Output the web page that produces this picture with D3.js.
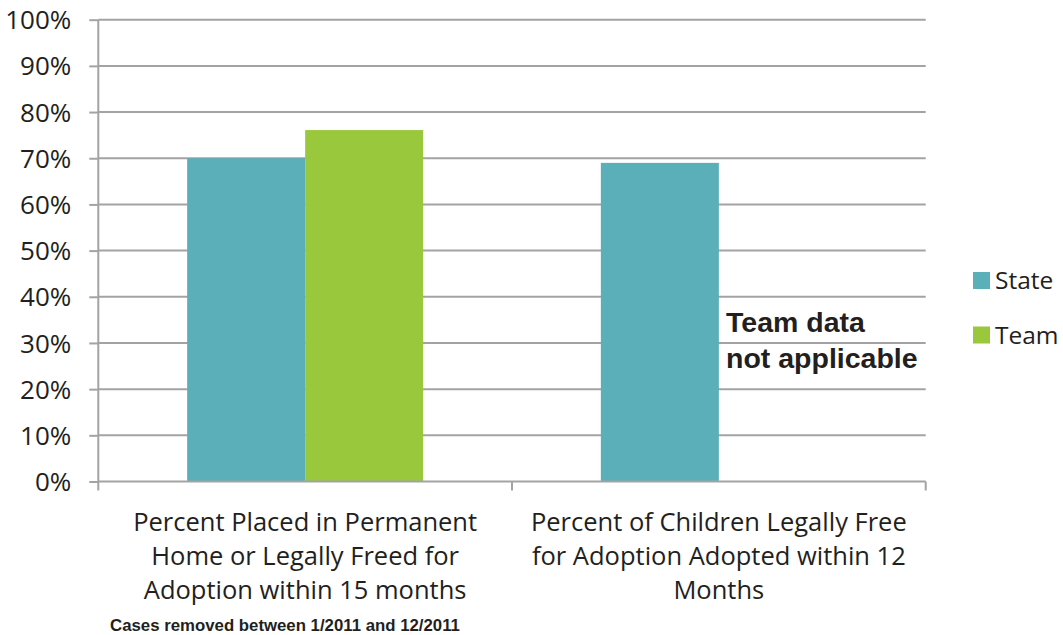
<!DOCTYPE html>
<html><head><meta charset="utf-8">
<script src="https://cdn.jsdelivr.net/npm/d3@7"></script>
<style>body{margin:0;background:#fff}svg{display:block}</style>
</head><body>
<svg id="c" width="1063" height="635"></svg>
<script>
const categories = [
  ["Percent Placed in Permanent","Home or Legally Freed for","Adoption within 15 months"],
  ["Percent of Children Legally Free","for Adoption Adopted within 12","Months"]
];
const seriesNames = ["State","Team"];
const stateValues = [70, 69];
const teamValues = [76.1, null];
const tickValues = [0,10,20,30,40,50,60,70,80,90,100];
const colors = ["#5AAFB8","#99C83D"];
const note = ["Team data","not applicable"];
const footnote = "Cases removed between 1/2011 and 12/2011";

const svg = d3.select("#c");
const L = 98.3, R = 925.7, T = 19.7, B = 481.5;
const font = "'Open Sans', sans-serif";
const txt = "#231F20";
const grid = "#A3A3A6";

const y = d3.scaleLinear().domain([0,100]).range([B,T]);
const x0 = d3.scaleBand().domain(d3.range(categories.length)).range([L,R]).padding(0);
const x1 = d3.scaleBand().domain(seriesNames).range([0,x0.bandwidth()]).paddingInner(0).paddingOuter(0.753);

// gridlines
svg.append("g").selectAll("line").data(tickValues.filter(d=>d>0)).join("line")
  .attr("x1",L).attr("x2",R).attr("y1",d=>y(d)).attr("y2",d=>y(d))
  .attr("stroke",grid).attr("stroke-width",2);

// bars
const series = [stateValues, teamValues];
series.forEach((vals,si)=>{
  svg.append("g").selectAll("rect").data(vals.map((v,i)=>({v,i})).filter(d=>d.v!=null)).join("rect")
    .attr("x",d=>x0(d.i)+x1(seriesNames[si]))
    .attr("width",x1.bandwidth())
    .attr("y",d=>y(d.v)).attr("height",d=>B-y(d.v))
    .attr("fill",colors[si]);
});

// y axis
const ya = d3.axisLeft(y).tickValues(tickValues).tickFormat(d=>d+"%").tickSize(9).tickPadding(18);
const yg = svg.append("g").attr("transform",`translate(${L},0)`).call(ya);
yg.select(".domain").attr("stroke",grid).attr("stroke-width",2).attr("d",`M0,${T}V${B}`);
yg.selectAll(".tick line").attr("stroke",grid).attr("stroke-width",2);
yg.selectAll("text").attr("font-family",font).attr("font-size",26).attr("fill",txt).attr("dy","0.35em");

// x axis
svg.append("line").attr("x1",L).attr("x2",R).attr("y1",B).attr("y2",B).attr("stroke",grid).attr("stroke-width",2);
const xt = [L].concat(d3.range(categories.length).map(i=>x0(i)+x0.bandwidth()));
svg.append("g").selectAll("line").data(xt).join("line")
  .attr("x1",d=>d).attr("x2",d=>d).attr("y1",B).attr("y2",B+9).attr("stroke",grid).attr("stroke-width",2);

// category labels
categories.forEach((lines,i)=>{
  const t = svg.append("text").attr("text-anchor","middle").attr("font-family",font).attr("font-size",25.5).attr("fill",txt);
  lines.forEach((ln,j)=>{
    t.append("tspan").attr("x",x0(i)+x0.bandwidth()/2).attr("y",530.5+j*34).text(ln);
  });
});

// footnote
svg.append("text").attr("x",285).attr("y",630.5).attr("text-anchor","middle")
  .attr("font-family","'Liberation Sans', Arial, sans-serif").attr("font-weight","bold").attr("font-size",16.8).attr("fill",txt).text(footnote);

// note
note.forEach((n,j)=>{
  svg.append("text").attr("x",726).attr("y",331.7+j*36.6)
    .attr("font-family","'Liberation Sans', Arial, sans-serif").attr("font-weight","bold").attr("font-size",28.5).attr("fill",txt).text(n);
});

// legend
seriesNames.forEach((s,i)=>{
  const g = svg.append("g").attr("transform",`translate(973,${272+i*54.5})`);
  g.append("rect").attr("width",17).attr("height",17).attr("fill",colors[i]);
  g.append("text").attr("x",22).attr("y",8.5).attr("dy","0.35em").attr("font-family",font).attr("font-size",24.5).attr("fill",txt).text(s);
});
</script>
</body></html>
